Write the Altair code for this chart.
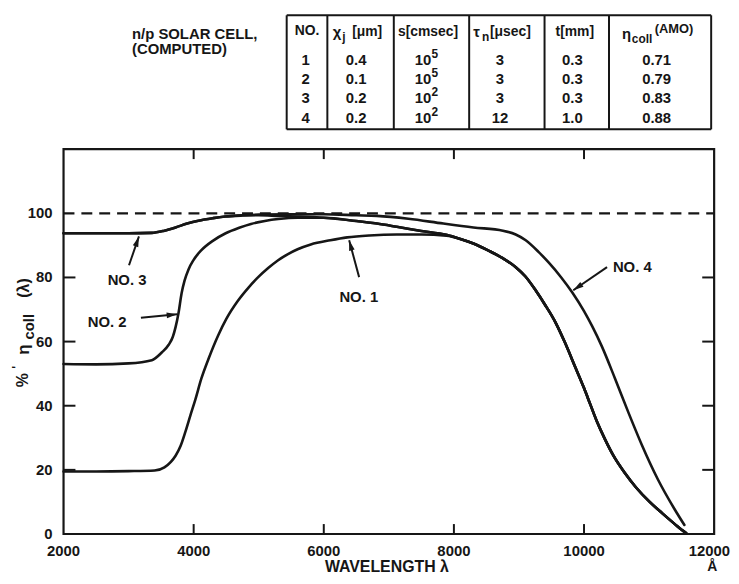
import math
import altair as alt
import pandas as pd

# ------------------------------------------------------------------ data
# wavelength (Angstrom) and collection efficiency (%)
TAIL_LAM = [8100, 8300, 8540, 8750, 8951, 9100, 9256, 9400, 9561, 9700, 9866,
            10000, 10095, 10200, 10323, 10450, 10628, 10800, 11009, 11200, 11400,
            11500, 11570]
TAIL_VAL = [92.0, 90.6, 88.3, 86.0, 83.2, 80.3, 76.0, 71.5, 66.0, 60.0, 52.0,
            45.5, 40.5, 35.0, 29.5, 24.5, 19.0, 14.5, 10.0, 6.5, 3.0,
            1.3, 0.3]

C1_LAM = [2000, 2500, 3000, 3400, 3550, 3650, 3722, 3800, 3875, 3950, 4027, 4119,
          4226, 4378, 4500, 4683, 4850, 4988, 5150, 5293, 5450, 5598, 5800, 6100,
          6360, 6700, 7122, 7500, 7884] + TAIL_LAM
C1_VAL = [19.5, 19.5, 19.6, 19.8, 20.8, 22.5, 24.4, 27.5, 32.0, 37.0, 42.0, 48.5,
          54.5, 62.0, 67.0, 72.8, 77.0, 80.0, 83.0, 85.3, 87.3, 88.8, 90.3, 91.6,
          92.5, 93.1, 93.4, 93.4, 93.0] + TAIL_VAL

C2_LAM = [2000, 2500, 3000, 3357, 3509, 3616, 3680, 3722, 3768, 3814, 3860, 3921,
          4000, 4119, 4300, 4485, 4700, 4881, 5094, 5300, 5598, 6000, 6500, 6817,
          7122, 7500, 7884] + TAIL_LAM
C2_VAL = [53.0, 52.9, 53.2, 54.2, 56.6, 59.0, 61.5, 64.5, 69.0, 75.0, 79.0, 82.5,
          85.5, 88.5, 91.5, 93.7, 95.5, 96.7, 97.6, 98.2, 98.6, 98.6, 97.6, 96.8,
          95.8, 94.5, 93.3] + TAIL_VAL

C3_LAM = [2000, 2500, 3000, 3357, 3550, 3722, 3900, 4073, 4300, 4485, 4750, 5000,
          5300, 5598, 6000, 6500, 6817, 7122, 7500, 7884] + TAIL_LAM
C3_VAL = [93.8, 93.8, 93.8, 93.9, 94.6, 95.6, 96.8, 97.7, 98.5, 99.0, 99.3, 99.4,
          99.2, 99.0, 98.6, 97.6, 96.8, 95.8, 94.5, 93.3] + TAIL_VAL

C4_LAM = [2000, 2500, 3000, 3357, 3550, 3722, 3900, 4073, 4300, 4485, 4750, 5000,
          5500, 6000, 6500, 6817, 7300, 7838, 8300, 8753, 8950, 9104, 9300, 9459,
          9650, 9820, 10000, 10125, 10274, 10476, 10680, 10884, 11136, 11390, 11543]
C4_VAL = [93.8, 93.8, 93.8, 93.9, 94.6, 95.6, 96.8, 97.7, 98.5, 99.0, 99.4, 99.6,
          99.7, 99.7, 99.4, 99.2, 98.3, 96.8, 95.6, 94.6, 93.4, 91.6, 88.0, 84.6,
          80.0, 75.3, 69.5, 64.8, 58.5, 48.5, 38.0, 28.0, 17.0, 7.8, 2.8]

REF_LEVEL = 100

CURVE_NAMES = ["NO. 1", "NO. 2", "NO. 3", "NO. 4"]
LABEL_LAM = [6538, 2671, 2976, 10742]
LABEL_VAL = [74.0, 66.2, 79.2, 83.2]
ARROW_TAIL_LAM = [6543, 3189, 3006, 10354]
ARROW_TAIL_VAL = [80.1, 67.4, 83.8, 83.2]
ARROW_TIP_LAM = [6390, 3745, 3159, 9835]
ARROW_TIP_VAL = [91.6, 68.5, 92.8, 76.0]

X_TICKS = [4000, 6000, 8000, 10000]
Y_TICKS = [20, 40, 60, 80]
X_LABELS = [2000, 4000, 6000, 8000, 10000, 12000]
Y_LABELS = [0, 20, 40, 60, 80, 100]

TABLE_NO = ["1", "2", "3", "4"]
TABLE_XJ = ["0.4", "0.1", "0.2", "0.2"]
TABLE_S_EXP = ["5", "5", "2", "2"]
TABLE_TAU = ["3", "3", "3", "12"]
TABLE_T = ["0.3", "0.3", "0.3", "1.0"]
TABLE_ETA = ["0.71", "0.79", "0.83", "0.88"]

# ------------------------------------------------------------------ layout
W, H = 656, 388
PAD = {"left": 56, "top": 140, "right": 17, "bottom": 40}
FONT = "Liberation Sans"
INK = "#161616"

xs = alt.Scale(domain=[2000, 12000], nice=False, zero=False)
ys = alt.Scale(domain=[0, 120], nice=False, zero=False)


def X(f):
    return alt.X(f, type="quantitative", scale=xs, axis=None)


def Y(f):
    return alt.Y(f, type="quantitative", scale=ys, axis=None)


def PX(f):
    return alt.X(f, type="quantitative", scale=None, axis=None)


def PY(f):
    return alt.Y(f, type="quantitative", scale=None, axis=None)


def txt(**kw):
    base = dict(font=FONT, fontWeight="bold", color=INK, baseline="middle")
    base.update(kw)
    return base


# curves
rows = []
for name, lam, val in zip(CURVE_NAMES, [C1_LAM, C2_LAM, C3_LAM, C4_LAM],
                          [C1_VAL, C2_VAL, C3_VAL, C4_VAL]):
    for l, v in zip(lam, val):
        rows.append({"curve": name, "lam": l, "val": v})
curves_df = pd.DataFrame(rows)

curves = alt.Chart(curves_df).mark_line(
    interpolate="monotone", strokeWidth=2.6, color=INK,
    strokeCap="round", strokeJoin="round"
).encode(x=X("lam"), y=Y("val"), detail="curve:N")

dash = alt.Chart(pd.DataFrame({"val": [REF_LEVEL]})).mark_rule(
    strokeDash=[11, 7], strokeWidth=2.2, color=INK
).encode(y=Y("val"), x=alt.value(0), x2=alt.value(W))

# inward ticks
xt = pd.DataFrame({"t": X_TICKS})
yt = pd.DataFrame({"t": Y_TICKS})
tick_b = alt.Chart(xt).mark_rule(strokeWidth=2, color=INK).encode(
    x=X("t"), y=alt.value(H), y2=alt.value(H - 10))
tick_t = alt.Chart(xt).mark_rule(strokeWidth=2, color=INK).encode(
    x=X("t"), y=alt.value(0), y2=alt.value(10))
tick_l = alt.Chart(yt).mark_rule(strokeWidth=2, color=INK).encode(
    y=Y("t"), x=alt.value(0), x2=alt.value(12))
tick_r = alt.Chart(yt).mark_rule(strokeWidth=2, color=INK).encode(
    y=Y("t"), x=alt.value(W), x2=alt.value(W - 12))

# tick labels
xl = pd.DataFrame({"t": X_LABELS[:-1], "s": [str(v) for v in X_LABELS[:-1]]})
xlab = alt.Chart(xl).mark_text(**txt(fontSize=15, align="center")).encode(
    x=X("t"), y=alt.value(405), text="s:N")
xlab_last = alt.Chart(pd.DataFrame({"s": [str(X_LABELS[-1])]})).mark_text(
    **txt(fontSize=15, align="right")).encode(
    x=alt.value(672), y=alt.value(405), text="s:N")
unit = alt.Chart(pd.DataFrame({"s": ["Å"]})).mark_text(
    **txt(fontSize=14, align="center")).encode(
    x=alt.value(654), y=alt.value(421), text="s:N")
yl = pd.DataFrame({"t": Y_LABELS, "s": [str(v) for v in Y_LABELS]})
ylab = alt.Chart(yl).mark_text(**txt(fontSize=15, align="right")).encode(
    x=alt.value(-11), y=Y("t"), text="s:N")

xtitle = alt.Chart(pd.DataFrame({"s": ["WAVELENGTH λ"]})).mark_text(
    **txt(fontSize=16, align="center")).encode(
    x=alt.value(326), y=alt.value(421), text="s:N")

ytitle_df = pd.DataFrame({
    "s": ["%", "'", "η", "coll", "(λ)"],
    "px": [-41, -47, -40, -35, -40],
    "py": [233, 220, 202, 179, 140],
    "fs": [16, 12, 17, 15, 16],
})
ytitle = alt.Chart(ytitle_df).mark_text(**txt(angle=270, align="center")).encode(
    x=PX("px"), y=PY("py"), text="s:N",
    size=alt.Size("fs:Q", scale=None, legend=None))

# arrows
PXL = W / 10000.0
PYV = H / 120.0
arr = pd.DataFrame({"lam0": ARROW_TAIL_LAM, "v0": ARROW_TAIL_VAL,
                    "lam1": ARROW_TIP_LAM, "v1": ARROW_TIP_VAL})
arr["ang"] = [math.degrees(math.atan2((l1 - l0) * PXL, (v1 - v0) * PYV)) % 360
              for l0, v0, l1, v1 in zip(arr.lam0, arr.v0, arr.lam1, arr.v1)]
shafts = alt.Chart(arr).mark_rule(strokeWidth=2, color=INK).encode(
    x=X("lam0"), y=Y("v0"), x2="lam1", y2="v1")
heads = alt.Chart(arr).mark_point(
    shape="M0,0L0.55,2L-0.55,2Z", filled=True, size=110, opacity=1, color=INK,
    strokeWidth=0
).encode(x=X("lam1"), y=Y("v1"), angle=alt.Angle("ang:Q", scale=None))

labels = alt.Chart(pd.DataFrame({"s": CURVE_NAMES, "lam": LABEL_LAM, "val": LABEL_VAL})
                   ).mark_text(**txt(fontSize=15, align="center")).encode(
    x=X("lam"), y=Y("val"), text="s:N")

# table (pixel layout above the plot)
ROW_Y = [-89.7, -70.7, -51.3, -31.3]
center_items = [("NO.", 245.5, -119, 14), ("s[cmsec]", 367.5, -118, 14),
                ("t[mm]", 515.5, -118, 14)]
for i in range(4):
    center_items += [(TABLE_NO[i], 244, ROW_Y[i], 15), (TABLE_XJ[i], 295, ROW_Y[i], 15),
                     (TABLE_TAU[i], 440, ROW_Y[i], 15), (TABLE_T[i], 513, ROW_Y[i], 15),
                     (TABLE_ETA[i], 598, ROW_Y[i], 15)]
left_items = [("n/p SOLAR CELL,", 69, -116, 15), ("(COMPUTED)", 69, -100.5, 15),
              ("χ", 271.5, -118, 15), ("j", 281, -113, 12), ("[μm]", 291, -118, 14),
              ("τ", 413, -118, 15), ("n", 422, -113, 12), ("[μsec]", 430, -118, 14),
              ("η", 563, -116, 15), ("coll", 573, -111, 12), ("(AMO)", 596, -121, 13)]
for i in range(4):
    left_items += [("10", 354, ROW_Y[i], 15), (TABLE_S_EXP[i], 371, ROW_Y[i] - 6, 12)]

cdf = pd.DataFrame(center_items, columns=["s", "px", "py", "fs"])
ldf = pd.DataFrame(left_items, columns=["s", "px", "py", "fs"])
tab_c = alt.Chart(cdf).mark_text(**txt(align="center")).encode(
    x=PX("px"), y=PY("py"), text="s:N", size=alt.Size("fs:Q", scale=None, legend=None))
tab_l = alt.Chart(ldf).mark_text(**txt(align="left")).encode(
    x=PX("px"), y=PY("py"), text="s:N", size=alt.Size("fs:Q", scale=None, legend=None))

EDGES = [225, 266, 333, 409, 485, 550, 653]
TOP, BOT = -135, -20
lines = [(e, TOP, e, BOT) for e in EDGES] + [(EDGES[0], TOP, EDGES[-1], TOP),
                                            (EDGES[0], BOT, EDGES[-1], BOT)]
ldf2 = pd.DataFrame(lines, columns=["x1", "y1", "x2", "y2"])
tab_lines = alt.Chart(ldf2).mark_rule(strokeWidth=2, color=INK).encode(
    x=PX("x1"), y=PY("y1"), x2="x2", y2="y2")

chart = alt.layer(
    dash, curves, tick_b, tick_t, tick_l, tick_r, xlab, xlab_last, unit, ylab,
    xtitle, ytitle, shafts, heads, labels, tab_lines, tab_c, tab_l
).resolve_scale(x="independent", y="independent").properties(
    width=W, height=H, padding=PAD,
    autosize=alt.AutoSizeParams(type="none"), background="white"
).configure_view(stroke=INK, strokeWidth=2.2)

chart.save("out.html", embed_options={"renderer": "svg", "actions": False})
